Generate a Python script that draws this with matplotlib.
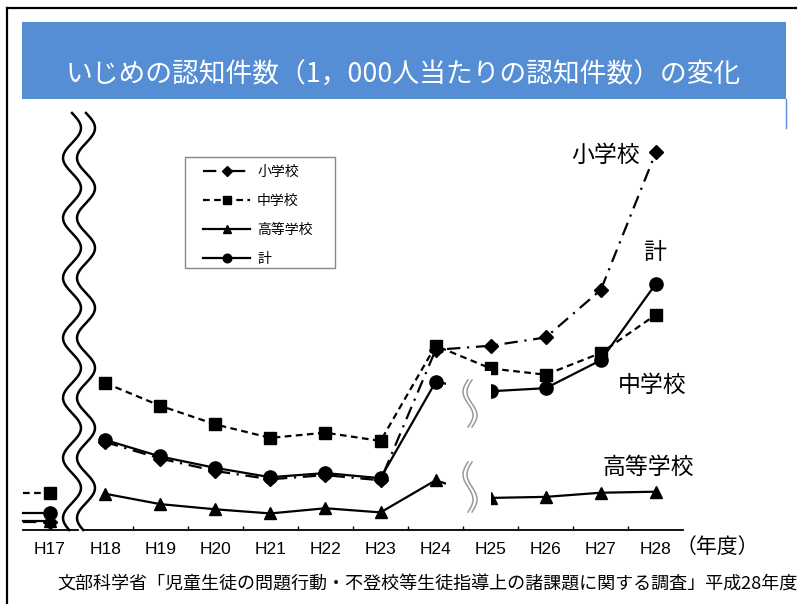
import matplotlib
matplotlib.use('Agg')
import matplotlib.pyplot as plt
import numpy as np
from matplotlib.patches import Rectangle
from matplotlib.lines import Line2D

plt.rcParams['font.family'] = ['Noto Sans CJK JP', 'DejaVu Sans']

# ---- data (1,000人当たりの認知件数) ----
years = ['H17', 'H18', 'H19', 'H20', 'H21', 'H22', 'H23', 'H24', 'H25', 'H26', 'H27', 'H28']
elementary = [0.8, 8.5, 6.9, 5.7, 4.9, 5.3, 4.8, 17.4, 17.8, 18.6, 23.2, 36.5]
junior = [3.6, 14.2, 12.0, 10.2, 8.9, 9.4, 8.6, 17.8, 15.6, 15.0, 17.1, 20.8]
high = [0.9, 3.5, 2.5, 2.0, 1.6, 2.1, 1.7, 4.8, 3.1, 3.2, 3.6, 3.7]
total = [1.6, 8.7, 7.1, 6.0, 5.1, 5.5, 5.0, 14.3, 13.4, 13.7, 16.4, 23.8]
series_names = ['小学校', '中学校', '高等学校', '計']

W, H = 797, 604
fig = plt.figure(figsize=(W / 100, H / 100), dpi=100)
fig.patch.set_facecolor('white')

def fx(px):
    return px / W

def fy(py):
    return 1 - py / H

# axes placement (pixels): x from 22.5 to 683.5, y from 120 to 530
ax = fig.add_axes([fx(22.5), fy(530), (683.5 - 22.5) / W, (530 - 120) / H])
ax.set_xlim(-0.5, 11.5)
ax.set_ylim(0, 39.6)
for s in ax.spines.values():
    s.set_visible(False)
ax.set_yticks([])
x = np.arange(len(years))

styles = [
    (elementary, dict(linestyle=(0, (6, 3, 1, 3)), marker='D', markersize=7.5)),
    (junior, dict(linestyle=(0, (3, 2)), marker='s', markersize=9)),
    (high, dict(linestyle='-', marker='^', markersize=9)),
    (total, dict(linestyle='-', marker='o', markersize=9.5)),
]

handles = []
for (vals, st), name in zip(styles, series_names):
    h, = ax.plot(x[1:], vals[1:], color='black', lw=1.6, zorder=3,
                 markerfacecolor='black', markeredgecolor='black', label=name,
                 clip_on=False, **st)
    # H17 stub
    ax.plot([-0.5, x[0]], [vals[0], vals[0]], color='black', lw=1.6,
            linestyle=st['linestyle'], zorder=3, clip_on=False)
    ax.plot([x[0]], [vals[0]], color='black', marker=st['marker'],
            markersize=st['markersize'], linestyle='none', zorder=3, clip_on=False)
    handles.append(h)

# x axis line with break
ax.plot([-0.5, 0.51], [0, 0], color='black', lw=1.3, clip_on=False, zorder=4)
ax.plot([0.62, 11.5], [0, 0], color='black', lw=1.3, clip_on=False, zorder=4)
ax.set_xticks(x)
ax.set_xticklabels(years, fontsize=12.5, family=['Liberation Sans', 'DejaVu Sans'])
ax.tick_params(axis='x', length=0, pad=9)
ax.set_xticks(np.arange(1.5, 11, 1.0), minor=True)
ax.tick_params(axis='x', which='minor', direction='in', length=3, width=1, color='black')

# legend (frame drawn separately)
ax.add_patch(Rectangle((fx(185), fy(268)), 150 / W, (268 - 157) / H, facecolor='white',
                       edgecolor='#888888', lw=1.0, transform=fig.transFigure, zorder=5,
                       clip_on=False))
leg = ax.legend(handles=handles, loc='upper left', bbox_to_anchor=(fx(203), fy(165)),
                bbox_transform=fig.transFigure,
                borderaxespad=0, fontsize=10, frameon=False,
                handlelength=3.4, labelspacing=1.08, markerscale=0.65, borderpad=0.0,
                handletextpad=0.5)
leg.set_zorder(6)

# series labels
lab_kw = dict(fontsize=16.5, ha='center', va='center', zorder=6)
ax.text(10.09, 36.2, '小学校', **lab_kw)
ax.text(10.98, 26.8, '計', **lab_kw)
ax.text(10.93, 14.0, '中学校', **lab_kw)
ax.text(10.86, 6.0, '高等学校', **lab_kw)

# ---- decorations (figure pixel coordinates) ----
# outer frame
fig.add_artist(Line2D([fx(7), fx(7)], [fy(8), fy(604)], color='black', lw=1.6, transform=fig.transFigure))
fig.add_artist(Line2D([fx(7), fx(797)], [fy(8), fy(8)], color='black', lw=1.6, transform=fig.transFigure))

# title banner
fig.add_artist(Rectangle((fx(22), fy(99)), (786 - 22) / W, (99 - 22) / H, facecolor='#558ED5',
                         edgecolor='none', transform=fig.transFigure))
fig.add_artist(Line2D([fx(786), fx(786)], [fy(99), fy(128)], color='#558ED5', lw=1.0, transform=fig.transFigure))
fig.text(fx(403), fy(75), 'いじめの認知件数（1，000人当たりの認知件数）の変化', color='white',
         fontsize=19.3, ha='center', va='center')

# left wavy break
yy = np.linspace(113, 530, 400)
xl = 72 + 9 * np.sin(2 * np.pi * (yy - 113) / 60)
for off in (0, 14):
    fig.add_artist(Line2D(fx(xl + off), fy(yy), color='black', lw=1.8, transform=fig.transFigure))

# middle breaks
for (y0, y1, ry0, ry1) in [(380, 427, 371, 432), (462, 512, 452, 522)]:
    fig.add_artist(Rectangle((fx(446), fy(ry1)), 45 / W, (ry1 - ry0) / H, facecolor='white',
                             edgecolor='none', transform=fig.transFigure))
    ys = np.linspace(y0, y1, 100)
    xs = 468 - 5 * np.sin(2 * np.pi * (ys - y0) / (y1 - y0))
    for off in (0, 4):
        fig.add_artist(Line2D(fx(xs + off), fy(ys), color='#999999', lw=1.1, transform=fig.transFigure))

# unit & source
fig.text(fx(717), fy(547), '（年度）', fontsize=15, ha='center', va='center')
fig.text(fx(57), fy(585), '文部科学省「児童生徒の問題行動・不登校等生徒指導上の諸課題に関する調査」平成28年度',
         fontsize=13, ha='left', va='center')

fig.savefig('out.png', dpi=100, facecolor='white')
